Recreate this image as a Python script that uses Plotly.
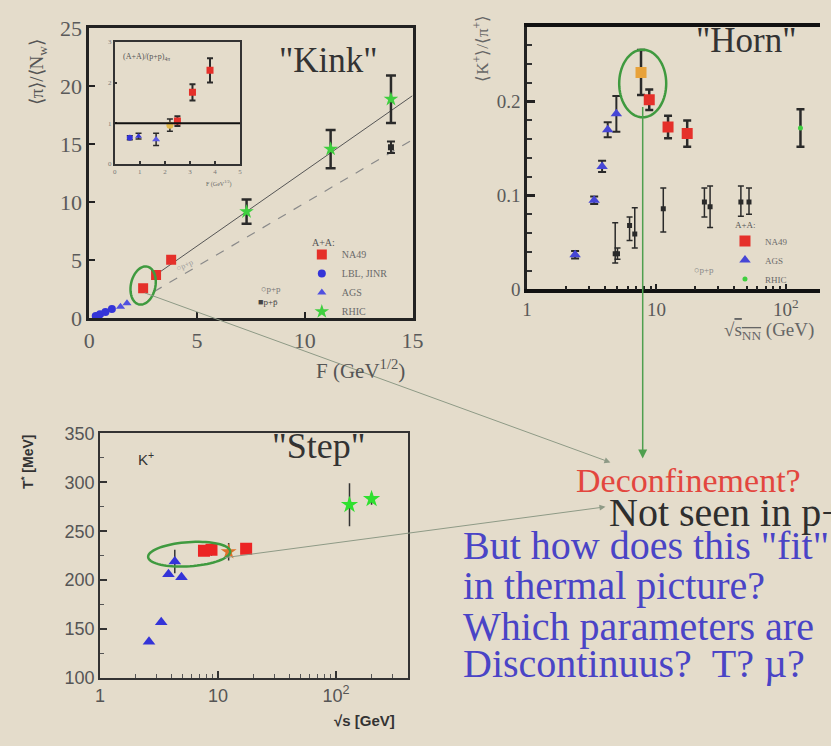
import numpy as np
import plotly.graph_objects as go

W, H = 831, 746
BG = "#e4dccb"
SERIF = "Liberation Serif"
SANS = "Liberation Sans"

# ---------------- "Kink": <pi>/<N_w> versus F ----------------
kink_lbl_F = [0.3, 0.5, 0.75, 1.05]
kink_lbl_pi = [0.2, 0.35, 0.55, 0.8]
kink_ags_F = [1.45, 1.75]
kink_ags_pi = [1.0, 1.3]
kink_na49_F = [2.5, 3.1, 3.8]
kink_na49_pi = [2.6, 3.75, 5.05]
kink_rhic_F = [7.3, 11.2, 14.0]
kink_rhic_pi = [9.2, 14.6, 18.9]
kink_rhic_err = [1.05, 1.65, 2.05]
kink_pp_F = [14.0]
kink_pp_pi = [14.75]
kink_pp_err = [0.5]
kink_aa_fit_F = [3.2, 15.0]
kink_aa_fit_pi = [3.9, 19.2]
kink_pp_fit_F = [3.0, 15.0]
kink_pp_fit_pi = [2.3, 15.4]

# inset: (A+A)/(p+p) ratio versus F
inset_lbl_F = [0.6, 0.95]
inset_lbl_r = [0.64, 0.68]
inset_lbl_err = [0.05, 0.07]
inset_ags_F = [1.65]
inset_ags_r = [0.6]
inset_ags_err = [0.15]
inset_low_F = [2.2]
inset_low_r = [0.95]
inset_low_err = [0.15]
inset_na49_F = [2.5, 3.1, 3.8]
inset_na49_r = [1.05, 1.76, 2.3]
inset_na49_err = [0.12, 0.2, 0.3]

# ---------------- "Horn": <K+>/<pi+> versus sqrt(s_NN) ----------------
horn_ags_s = [2.35, 3.3, 3.8, 4.2, 4.9]
horn_ags_r = [0.037, 0.095, 0.131, 0.170, 0.187]
horn_ags_err = [0.004, 0.004, 0.006, 0.008, 0.019]
horn_low_s = [7.6]
horn_low_r = [0.231]
horn_low_err = [0.024]
horn_na49_s = [8.8, 12.3, 17.3]
horn_na49_r = [0.202, 0.173, 0.166]
horn_na49_err = [0.011, 0.012, 0.014]
horn_rhic_s = [130.0]
horn_rhic_r = [0.172]
horn_rhic_err = [0.02]
horn_pp_s = [4.8, 5.0, 6.2, 6.8, 11.3, 23.5, 26.0, 45.0, 52.0]
horn_pp_r = [0.038, 0.038, 0.068, 0.059, 0.086, 0.093, 0.088, 0.093, 0.093]
horn_pp_up = [0.033, 0.006, 0.009, 0.028, 0.022, 0.015, 0.022, 0.017, 0.015]
horn_pp_dn = [0.010, 0.006, 0.016, 0.015, 0.025, 0.016, 0.022, 0.015, 0.013]

# ---------------- "Step": inverse slope T of K+ versus sqrt(s) ----------------
step_ags_s = [2.6, 3.3, 3.8, 4.3, 4.9]
step_ags_T = [137, 157, 206, 219, 203]
step_ags_err = [0, 0, 0, 12, 0]
step_na49_s = [7.6, 8.8, 17.3]
step_na49_T = [230, 231, 232]
step_na49_err = [4, 6, 5]
step_low_s = [12.3]
step_low_T = [229]
step_low_err = [9]
step_rhic_s = [130.0, 200.0]
step_rhic_T = [277, 283]
step_rhic_err = [22, 6]

RED = "#e5302a"
BLUE = "#3434d8"
GREEN = "#3fcf3f"
ORANGE = "#e8a23a"
DARK = "#2a2a2a"


def px(x):
    return x / W


def py(y):
    return 1 - y / H


fig = go.Figure()

# --- Kink traces
fig.add_trace(go.Scatter(x=kink_aa_fit_F, y=kink_aa_fit_pi, mode="lines",
                         line=dict(color="#555", width=1), showlegend=False,
                         xaxis="x", yaxis="y"))
fig.add_trace(go.Scatter(x=kink_pp_fit_F, y=kink_pp_fit_pi, mode="lines",
                         line=dict(color="#8a8a8a", width=1.2, dash="dash"),
                         showlegend=False, xaxis="x", yaxis="y"))
fig.add_trace(go.Scatter(x=kink_na49_F, y=kink_na49_pi, mode="markers", name="NA49",
                         marker=dict(symbol="square", size=10, color=RED),
                         xaxis="x", yaxis="y", legend="legend", legendrank=1))
fig.add_trace(go.Scatter(x=kink_lbl_F, y=kink_lbl_pi, mode="markers", name="LBL, JINR",
                         marker=dict(symbol="circle", size=8, color=BLUE),
                         xaxis="x", yaxis="y", legend="legend", legendrank=2))
fig.add_trace(go.Scatter(x=kink_ags_F, y=kink_ags_pi, mode="markers", name="AGS",
                         marker=dict(symbol="triangle-up", size=8, color="#5050e0"),
                         xaxis="x", yaxis="y", legend="legend", legendrank=3))
fig.add_trace(go.Scatter(x=kink_rhic_F, y=kink_rhic_pi, mode="markers", name="RHIC",
                         marker=dict(symbol="star", size=11, color=GREEN),
                         error_y=dict(type="data", array=kink_rhic_err, color=DARK,
                                      thickness=2.5, width=5),
                         xaxis="x", yaxis="y", legend="legend", legendrank=4))
fig.add_trace(go.Scatter(x=kink_pp_F, y=kink_pp_pi, mode="markers",
                         marker=dict(symbol="square", size=6, color=DARK),
                         error_y=dict(type="data", array=kink_pp_err, color=DARK,
                                      thickness=2, width=4),
                         showlegend=False, xaxis="x", yaxis="y"))

# --- inset traces
fig.add_trace(go.Scatter(x=inset_lbl_F, y=inset_lbl_r, mode="markers",
                         marker=dict(symbol=["circle", "triangle-up"], size=6, color=BLUE),
                         error_y=dict(type="data", array=inset_lbl_err, color=DARK,
                                      thickness=1.5, width=3),
                         showlegend=False, xaxis="x2", yaxis="y2"))
fig.add_trace(go.Scatter(x=inset_ags_F, y=inset_ags_r, mode="markers",
                         marker=dict(symbol="triangle-up", size=7, color="#5a5ae6"),
                         error_y=dict(type="data", array=inset_ags_err, color=DARK,
                                      thickness=1.5, width=3),
                         showlegend=False, xaxis="x2", yaxis="y2"))
fig.add_trace(go.Scatter(x=inset_low_F, y=inset_low_r, mode="markers",
                         marker=dict(symbol="circle", size=7, color="#e2b94a"),
                         error_y=dict(type="data", array=inset_low_err, color=DARK,
                                      thickness=1.5, width=3),
                         showlegend=False, xaxis="x2", yaxis="y2"))
fig.add_trace(go.Scatter(x=inset_na49_F, y=inset_na49_r, mode="markers",
                         marker=dict(symbol="square", size=7, color=RED),
                         error_y=dict(type="data", array=inset_na49_err, color=DARK,
                                      thickness=2, width=3),
                         showlegend=False, xaxis="x2", yaxis="y2"))

# --- Horn traces
fig.add_trace(go.Scatter(x=horn_pp_s, y=horn_pp_r, mode="markers",
                         marker=dict(symbol="square", size=5, color=DARK),
                         error_y=dict(type="data", symmetric=False, array=horn_pp_up,
                                      arrayminus=horn_pp_dn, color=DARK,
                                      thickness=1.5, width=3),
                         showlegend=False, xaxis="x3", yaxis="y3"))
fig.add_trace(go.Scatter(x=horn_ags_s, y=horn_ags_r, mode="markers", name="AGS",
                         marker=dict(symbol="triangle-up", size=10, color="#4646d6"),
                         error_y=dict(type="data", array=horn_ags_err, color=DARK,
                                      thickness=2, width=4),
                         xaxis="x3", yaxis="y3", legend="legend2", legendrank=2))
fig.add_trace(go.Scatter(x=horn_low_s, y=horn_low_r, mode="markers",
                         marker=dict(symbol="square", size=11, color=ORANGE),
                         error_y=dict(type="data", array=horn_low_err, color=DARK,
                                      thickness=2.5, width=4),
                         showlegend=False, xaxis="x3", yaxis="y3"))
fig.add_trace(go.Scatter(x=horn_na49_s, y=horn_na49_r, mode="markers", name="NA49",
                         marker=dict(symbol="square", size=11, color=RED),
                         error_y=dict(type="data", array=horn_na49_err, color=DARK,
                                      thickness=2.5, width=4),
                         xaxis="x3", yaxis="y3", legend="legend2", legendrank=1))
fig.add_trace(go.Scatter(x=horn_rhic_s, y=horn_rhic_r, mode="markers", name="RHIC",
                         marker=dict(symbol="circle", size=5, color=GREEN),
                         error_y=dict(type="data", array=horn_rhic_err, color=DARK,
                                      thickness=2.5, width=4),
                         xaxis="x3", yaxis="y3", legend="legend2", legendrank=3))

# --- Step traces
fig.add_trace(go.Scatter(x=step_ags_s, y=step_ags_T, mode="markers",
                         marker=dict(symbol="triangle-up", size=11, color=BLUE),
                         error_y=dict(type="data", array=step_ags_err, color="#333",
                                      thickness=1.5, width=0),
                         showlegend=False, xaxis="x4", yaxis="y4"))
fig.add_trace(go.Scatter(x=step_na49_s, y=step_na49_T, mode="markers",
                         marker=dict(symbol="square", size=12, color="#ec2424"),
                         error_y=dict(type="data", array=step_na49_err, color="#333",
                                      thickness=1.5, width=0),
                         showlegend=False, xaxis="x4", yaxis="y4"))
fig.add_trace(go.Scatter(x=step_low_s, y=step_low_T, mode="markers",
                         marker=dict(symbol="star", size=12, color="#e0702a"),
                         error_y=dict(type="data", array=step_low_err, color="#333",
                                      thickness=1.5, width=0),
                         showlegend=False, xaxis="x4", yaxis="y4"))
fig.add_trace(go.Scatter(x=step_rhic_s, y=step_rhic_T, mode="markers",
                         marker=dict(symbol="star", size=13, color="#2fe02f"),
                         error_y=dict(type="data", array=step_rhic_err, color="#333",
                                      thickness=1.5, width=0),
                         showlegend=False, xaxis="x4", yaxis="y4"))


def axis_common(**kw):
    d = dict(showgrid=False, zeroline=False, showline=True, ticks="inside",
             layer="above traces")
    d.update(kw)
    return d


serif_tick = dict(family=SERIF, size=22, color="#5a5a5a")
horn_tick = dict(family=SERIF, size=19, color="#5a5a5a")
sans_tick = dict(family=SANS, size=18, color="#555")
legend_font = dict(family=SERIF, size=10, color="#6a6a6a")

layout = dict(
    width=W, height=H, margin=dict(l=0, r=0, t=0, b=0),
    paper_bgcolor=BG, plot_bgcolor=BG,
    xaxis=axis_common(domain=[px(85), px(415)], range=[0, 15], anchor="y",
                      tickvals=[0, 5, 10, 15], linecolor="#222", linewidth=3,
                      mirror=True, ticklen=6, tickwidth=2, tickcolor="#222",
                      tickfont=serif_tick),
    yaxis=axis_common(domain=[py(317), py(17)], range=[0, 25], anchor="x",
                      tickvals=[0, 5, 10, 15, 20, 25], linecolor="#222", linewidth=2.5,
                      mirror=True, ticklen=6, tickwidth=2, tickcolor="#222",
                      tickfont=serif_tick),
    xaxis2=axis_common(domain=[px(111), px(239)], range=[0, 5], anchor="y2",
                       tickvals=[0, 1, 2, 3, 4, 5], linecolor="#333", linewidth=1.5,
                       mirror=True, ticklen=3, tickwidth=1.5, tickcolor="#333",
                       tickfont=dict(family=SERIF, size=7, color="#777")),
    yaxis2=axis_common(domain=[py(157), py(31)], range=[0, 3], anchor="x2",
                       tickvals=[0, 1, 2, 3], linecolor="#333", linewidth=1.5,
                       mirror=True, ticklen=3, tickwidth=1.5, tickcolor="#333",
                       tickfont=dict(family=SERIF, size=7, color="#777")),
    xaxis3=axis_common(domain=[px(532), 1.0], type="log", range=[0, 2.265], anchor="y3",
                       tickvals=[1, 10, 100], ticktext=["1", "10", "10<sup>2</sup>"],
                       linecolor="#111", linewidth=3.5, mirror=True, ticklen=6,
                       tickwidth=2, tickcolor="#222", tickfont=horn_tick,
                       minor=dict(tickvals=[2, 3, 4, 5, 6, 7, 8, 9, 20, 30, 40, 50,
                                            60, 70, 80, 90, 200],
                                  ticks="inside", ticklen=4, tickwidth=2,
                                  tickcolor="#222")),
    yaxis3=axis_common(domain=[py(287), py(16)], range=[0, 0.279], anchor="x3",
                       tickvals=[0, 0.1, 0.2], ticktext=["0", "0.1", "0.2"],
                       linecolor="#222", linewidth=2.5, mirror=False, ticklen=8,
                       tickwidth=2.5, tickcolor="#222", tickfont=horn_tick,
                       minor=dict(dtick=0.02, ticks="inside", ticklen=5, tickwidth=2,
                                  tickcolor="#333")),
    xaxis4=axis_common(domain=[px(96), px(410)], type="log", range=[0, np.log10(404)],
                       anchor="y4", tickvals=[1, 10, 100],
                       ticktext=["1", "10", "10<sup>2</sup>"], linecolor="#333",
                       linewidth=2, mirror=True, ticklen=7, tickwidth=1.5,
                       tickcolor="#333", tickfont=sans_tick,
                       minor=dict(tickvals=[2, 3, 4, 5, 6, 7, 8, 9, 20, 30, 40, 50,
                                            60, 70, 80, 90, 200, 300, 400],
                                  ticks="inside", ticklen=4, tickwidth=1,
                                  tickcolor="#555")),
    yaxis4=axis_common(domain=[py(689), py(436)], range=[100, 350], anchor="x4",
                       tickvals=[100, 150, 200, 250, 300, 350], linecolor="#333",
                       linewidth=2, mirror=True, ticklen=7, tickwidth=1.5,
                       tickcolor="#333", tickfont=sans_tick,
                       minor=dict(dtick=25, ticks="inside", ticklen=4, tickwidth=1,
                                  tickcolor="#555")),
    legend=dict(x=px(302), y=py(236), xanchor="left", yanchor="top",
                bgcolor="rgba(0,0,0,0)", font=legend_font,
                itemwidth=30, tracegroupgap=0, traceorder="normal"),
    legend2=dict(x=px(734), y=py(222), xanchor="left", yanchor="top",
                 bgcolor="rgba(0,0,0,0)", font=dict(family=SERIF, size=9, color="#6a6a6a"),
                 itemwidth=30, tracegroupgap=0, traceorder="normal"),
)
fig.update_layout(**layout)

# inset reference line at ratio 1
fig.add_shape(type="line", xref="x2", yref="y2", x0=0, x1=5, y0=1, y1=1,
              line=dict(color="#111", width=2))


def ellipse_path(cx, cy, rx, ry, tilt_deg):
    t = np.linspace(0, 2 * np.pi, 73)
    a = np.radians(tilt_deg)
    xs = cx + rx * np.cos(t) * np.cos(a) - ry * np.sin(t) * np.sin(a)
    ys = cy + rx * np.cos(t) * np.sin(a) + ry * np.sin(t) * np.cos(a)
    pts = [f"{px(x):.5f},{py(y):.5f}" for x, y in zip(xs, ys)]
    return "M " + " L ".join(pts) + " Z"


ELL = "#3f9a3f"
for cx, cy, rx, ry, tilt in [(140, 283, 12.5, 20, 12), (650, 74, 24, 35, 0),
                             (187, 561, 42, 12.5, -4)]:
    fig.add_shape(type="path", xref="paper", yref="paper",
                  path=ellipse_path(cx, cy, rx, ry, tilt),
                  line=dict(color=ELL, width=2.5))

annotations = []


def text(s, x, y, size, color, family=SERIF, anchor="left", angle=0, yanchor="middle"):
    annotations.append(dict(text=s, x=px(x), y=py(y), xref="paper", yref="paper",
                            xanchor=anchor, yanchor=yanchor, showarrow=False,
                            textangle=angle, font=dict(family=family, size=size,
                                                       color=color)))


def arrow(x_head, y_head, x_tail, y_tail, color, width):
    annotations.append(dict(text="", x=px(x_head), y=py(y_head), xref="paper",
                            yref="paper", ax=x_tail - x_head, ay=y_tail - y_head,
                            axref="pixel", ayref="pixel", showarrow=True,
                            arrowhead=2, arrowsize=1.2, arrowwidth=width,
                            arrowcolor=color, standoff=0, startstandoff=0))


# connectors from the highlighted points to the remarks
arrow(617, 466, 150, 296, "#8e9a86", 1)
arrow(612, 512, 230, 563, "#8e9a86", 1)
arrow(650, 462, 650, 109, "#4f9f4f", 1.5)

# panel labels
text('"Kink"', 329, 50, 35, "#333", anchor="center")
text('"Horn"', 756, 30, 35, "#333", anchor="center")
text('"Step"', 319, 449, 36, "#333", anchor="center")
text("K<sup>+</sup>", 133, 462, 15, "#333", family=SANS)

# legend headings
text("A+A:", 310, 238, 10, "#555")
text("A+A:", 742, 220, 9, "#555")

# axis titles
text("⟨π⟩/⟨N<sub>w</sub>⟩", 33, 62, 19, "#555", angle=-90, anchor="center")
text("F (GeV<sup>1/2</sup>)", 362, 370, 21, "#555", anchor="center")
text("⟨K<sup>+</sup>⟩/⟨π<sup>+</sup>⟩", 485, 38, 17, "#666", angle=-90, anchor="center")
text("√<span style='text-decoration:overline'>s<sub>NN</sub></span> (GeV)", 731, 330, 19,
     "#666")
text("<b>T<sup>*</sup> [MeV]</b>", 22, 466, 14, "#333", family=SANS, angle=-90,
     anchor="center")
text("<b>√s [GeV]</b>", 366, 733, 15, "#333", family=SANS, anchor="center")

# inset labels
text("(A+A)/(p+p)<sub>4π</sub>", 117, 47, 8, "#555")
text("F (GeV<sup>1/2</sup>)", 217, 177, 6, "#666", anchor="center")

# p+p labels
text("○p+p", 258, 287, 9, "#777")
text("■p+p\u0304", 255, 300, 9, "#444")
text("○p+p", 182, 262, 8, "#9a9a9a", anchor="center", angle=-24)
text("○p+p", 700, 267, 9, "#888")

# remarks
BLUE_TXT = "#4a44c6"
text("Deconfinement?", 580, 485, 34, "#e3463e")
text("Not seen in p+p", 614, 518, 40, "#2e2e2e")
text('But how does this "fit"', 465, 552, 40, BLUE_TXT)
text("in thermal picture?", 465, 593, 40, BLUE_TXT)
text("Which parameters are", 465, 636, 40, BLUE_TXT)
text("Discontinuus?\u00a0\u00a0T? µ?", 465, 674, 40, BLUE_TXT)

fig.update_layout(annotations=annotations)

fig.write_html("out.html")
